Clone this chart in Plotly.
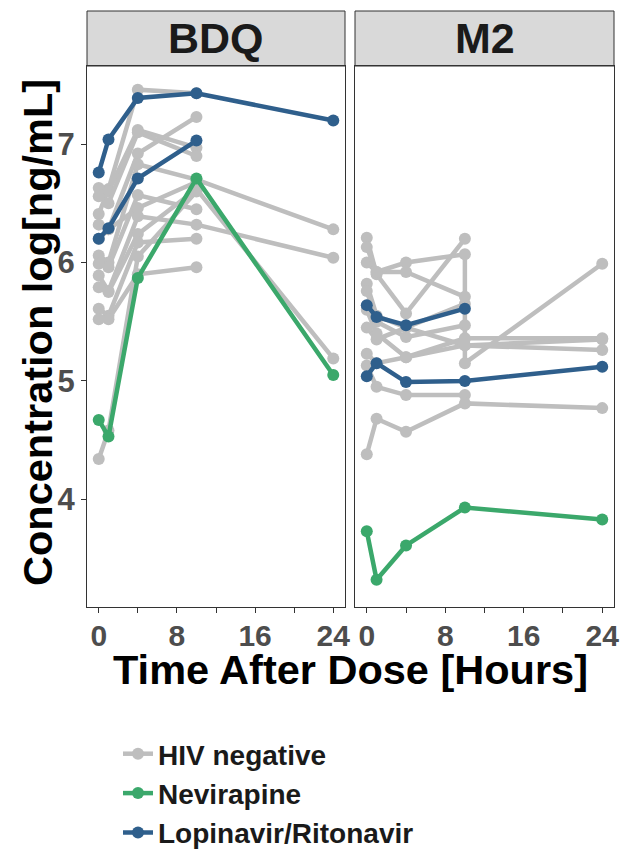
import plotly.graph_objects as go

W, H = 626, 849

# ---------------- data ----------------
times = [0, 1, 4, 10, 24]

# BDQ panel: log concentration per subject at times (None = not sampled)
bdq_hiv_neg = [
    [6.41, 6.62, 7.46, 7.43, None],
    [6.63, 6.60, 7.12, 6.97, None],
    [6.56, 6.50, 7.10, 6.90, None],
    [6.32, 6.28, 6.92, 7.23, None],
    [6.06, 6.00, 6.83, 6.70, 6.28],
    [5.99, 5.96, 6.57, 6.45, None],
    [5.89, 5.76, 6.39, 6.32, 6.04],
    [5.79, 5.75, 6.24, 6.62, 5.19],
    [5.61, 5.55, 6.17, 6.20, None],
    [5.52, 5.52, 5.90, 5.96, None],
    [4.34, 4.58, 6.05, 6.60, None],
    [6.20, 6.28, 6.46, 6.68, None],
]
bdq_nevirapine = [
    [4.67, 4.53, 5.87, 6.71, 5.05],
]
bdq_lpv = [
    [6.76, 7.04, 7.39, 7.43, 7.20],
    [6.20, 6.29, 6.71, 7.03, None],
]

# M2 panel
m2_hiv_neg = [
    [6.21, 5.90, 5.57, 6.20, None],
    [6.00, 5.92, 5.92, 5.71, None],
    [5.82, 5.55, 5.45, 5.65, None],
    [5.76, 5.50, 5.37, 5.47, None],
    [5.60, 5.40, 5.20, 5.36, 5.36],
    [5.45, 5.35, 5.45, 5.30, 5.35],
    [5.23, 5.15, 5.20, 5.30, 5.26],
    [5.13, 4.95, 4.88, 4.88, None],
    [4.38, 4.68, 4.57, 4.81, 4.77],
]
# subject with duplicate sample around 10 h
m2_dup_times = [0, 1, 4, 10, 10, 24]
m2_dup_values = [6.13, 5.92, 6.00, 6.07, 5.15, 5.99]

m2_nevirapine = [
    [3.73, 3.32, 3.61, 3.93, 3.83],
]
m2_lpv = [
    [5.64, 5.54, 5.47, 5.61, None],
    [5.04, 5.15, 4.99, 5.00, 5.12],
]

group_names = ["HIV negative", "Nevirapine", "Lopinavir/Ritonavir"]
group_colors = ["#BEBEBE", "#3BA86B", "#2F5F8C"]

x_ticks = [0, 4, 8, 12, 16, 20, 24]
x_tick_text = ["0", "", "8", "", "16", "", "24"]
y_ticks = [4, 5, 6, 7]

# ---------------- figure ----------------
fig = go.Figure()
FONT = "Liberation Sans, Arial, sans-serif"
shown = set()


def add_subject(t, v, group_idx, xa, ya):
    pts = [(ti, vi) for ti, vi in zip(t, v) if vi is not None]
    name = group_names[group_idx]
    fig.add_trace(go.Scatter(
        x=[p[0] for p in pts], y=[p[1] for p in pts],
        mode="lines+markers",
        line=dict(color=group_colors[group_idx], width=4.5),
        marker=dict(color=group_colors[group_idx], size=12),
        name=name, legendgroup=name,
        showlegend=name not in shown,
        xaxis=xa, yaxis=ya,
    ))
    shown.add(name)


for s in bdq_hiv_neg:
    add_subject(times, s, 0, "x", "y")
for s in m2_hiv_neg:
    add_subject(times, s, 0, "x2", "y2")
add_subject(m2_dup_times, m2_dup_values, 0, "x2", "y2")
for s in bdq_nevirapine:
    add_subject(times, s, 1, "x", "y")
for s in m2_nevirapine:
    add_subject(times, s, 1, "x2", "y2")
for s in bdq_lpv:
    add_subject(times, s, 2, "x", "y")
for s in m2_lpv:
    add_subject(times, s, 2, "x2", "y2")

px = lambda p: p / W
py = lambda p: 1 - p / H

p1 = (87, 345)
p2 = (355, 614)
top, bottom = 66, 607

common_x = dict(
    range=[-1.2, 25.2], tickmode="array", tickvals=x_ticks, ticktext=x_tick_text,
    ticks="outside", ticklen=5, tickwidth=1, tickcolor="#333333",
    showline=True, mirror=True, linecolor="#333333", linewidth=1,
    showgrid=False, zeroline=False, ticklabelstandoff=-3,
    tickfont=dict(family=FONT, size=30, color="#4D4D4D", weight=700),
)
common_y = dict(
    range=[3.09, 7.66], tickmode="array", tickvals=y_ticks,
    ticklen=5, tickwidth=1, tickcolor="#333333",
    showline=True, mirror=True, linecolor="#333333", linewidth=1,
    showgrid=False, zeroline=False,
    tickfont=dict(family=FONT, size=31, color="#4D4D4D", weight=700),
)

fig.update_layout(
    width=W, height=H,
    margin=dict(l=0, r=0, t=0, b=0, autoexpand=False),
    paper_bgcolor="white", plot_bgcolor="white",
    xaxis=dict(domain=[px(p1[0]), px(p1[1])], anchor="y", **common_x),
    xaxis2=dict(domain=[px(p2[0]), px(p2[1])], anchor="y2", **common_x),
    yaxis=dict(domain=[py(bottom), py(top)], anchor="x", ticks="outside", **common_y),
    yaxis2=dict(domain=[py(bottom), py(top)], anchor="x2", ticks="", showticklabels=False, **common_y),
    showlegend=True,
    legend=dict(
        x=px(118), y=py(729), xanchor="left", yanchor="top",
        orientation="v", bgcolor="rgba(0,0,0,0)",
        font=dict(family=FONT, size=28, color="#1A1A1A", weight=700),
        itemwidth=30, tracegroupgap=0,
    ),
)

# facet strips
for (a, b), label in [(p1, "BDQ"), (p2, "M2")]:
    fig.add_shape(type="rect", xref="paper", yref="paper",
                  x0=px(a), x1=px(b), y0=py(66), y1=py(11),
                  fillcolor="#D9D9D9", line=dict(color="#333333", width=1), layer="below")
    fig.add_annotation(x=px((a + b) / 2), y=py(38.5), xref="paper", yref="paper",
                       text=label, showarrow=False, xanchor="center", yanchor="middle",
                       font=dict(family=FONT, size=43, color="#1A1A1A", weight=700))

# axis titles
fig.add_annotation(x=px(350.5), y=py(669), xref="paper", yref="paper",
                   text="Time After Dose [Hours]", showarrow=False,
                   xanchor="center", yanchor="middle",
                   font=dict(family=FONT, size=41.5, color="#000000", weight=700))
fig.add_annotation(x=px(37), y=py(333), xref="paper", yref="paper",
                   text="Concentration log[ng/mL]", showarrow=False, textangle=-90,
                   xanchor="center", yanchor="middle",
                   font=dict(family=FONT, size=41.5, color="#000000", weight=700))

fig.write_html("out.html")
